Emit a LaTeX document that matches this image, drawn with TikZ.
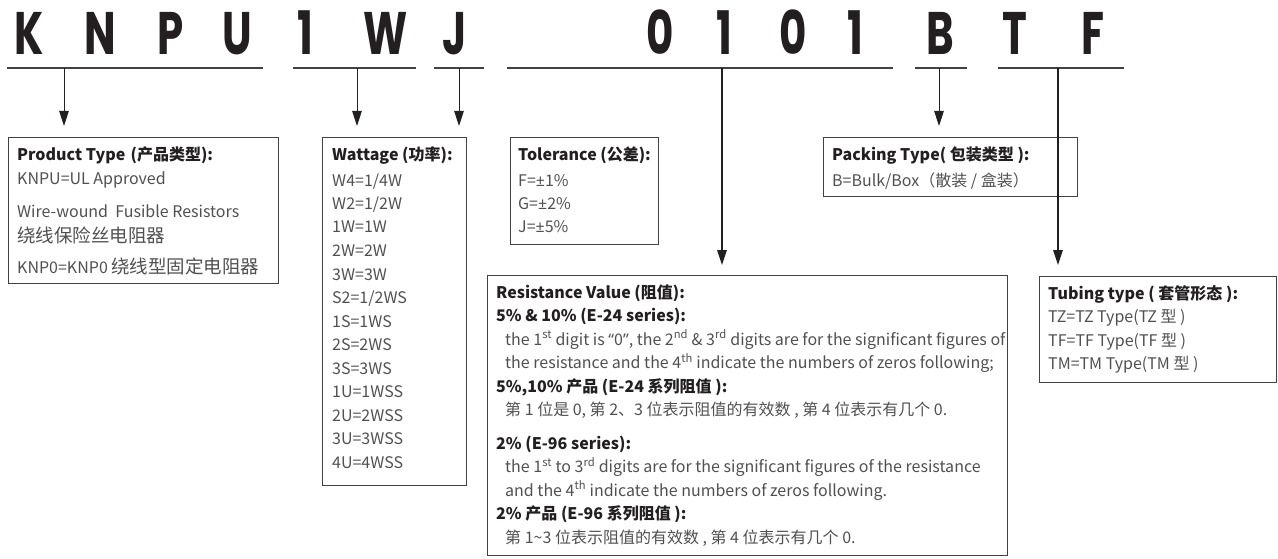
\documentclass[tikz,border=0pt]{standalone}
\usepackage{fontspec}
\usepackage{graphicx}
\setmainfont{Noto Sans CJK SC}
\newfontfamily\codefont{Poppins}
\newfontfamily\latfont{Noto Sans}
\usetikzlibrary{arrows.meta}
\definecolor{ink}{HTML}{231F20}
\definecolor{bodytxt}{HTML}{505052}
\newcommand{\cl}[1]{\scalebox{0.7}[1]{#1}}
\newcommand{\bigcjk}[1]{{\fontsize{18.5}{18.5}\selectfont #1}}
\newcommand{\latq}[1]{{\latfont #1}}
\tikzset{
  code/.style={font=\codefont\bfseries\fontsize{60}{60}\selectfont, text=ink, anchor=base, inner sep=0pt},
  uline/.style={line width=1.8pt, draw=ink!85},
  conn/.style={line width=1pt, draw=ink, -{Triangle[length=15pt,width=9.5pt]}},
  longconn/.style={line width=1.3pt, draw=ink, -{Triangle[length=15pt,width=9.5pt]}},
  boxx/.style={draw=ink!85, line width=1pt, anchor=north west, inner sep=0pt},
  hd/.style={font=\bfseries\fontsize{16}{16}\selectfont, text=ink, anchor=base west, inner sep=0pt},
  tx/.style={font=\fontsize{16}{16}\selectfont, text=bodytxt, anchor=base west, inner sep=0pt},
}
\begin{document}
\begin{tikzpicture}[x=1pt,y=-1pt]
\useasboundingbox (0,0) rectangle (1278,559);
% code letters
\node[code] (c1) at (29,55) {\cl{K}};
\node[code] (c2) at (100,55) {\cl{N}};
\node[code] (c3) at (171,55) {\cl{P}};
\node[code] (c4) at (237,55) {\cl{U}};
\node[code] (c5) at (305,55) {\cl{1}};
\node[code] (c6) at (386,55) {\cl{W}};
\node[code] (c7) at (455,55) {\cl{J}};
\node[code] (c8) at (660,55) {\cl{0}};
\node[code] (c9) at (724,55) {\cl{1}};
\node[code] (c10) at (793,55) {\cl{0}};
\node[code] (c11) at (855,55) {\cl{1}};
\node[code] (c12) at (940,55) {\cl{B}};
\node[code] (c13) at (1015,55) {\cl{T}};
\node[code] (c14) at (1093,55) {\cl{F}};
% underlines
\coordinate (u1a) at (7,68);   \coordinate (u1b) at (263,68);
\coordinate (u2a) at (293,68); \coordinate (u2b) at (416,68);
\coordinate (u3a) at (434,68); \coordinate (u3b) at (484,68);
\coordinate (u4a) at (507,68); \coordinate (u4b) at (893,68);
\coordinate (u5a) at (915,68); \coordinate (u5b) at (967,68);
\coordinate (u6a) at (998,68); \coordinate (u6b) at (1124,68);
\draw[uline] (u1a) -- (u1b);
\draw[uline] (u2a) -- (u2b);
\draw[uline] (u3a) -- (u3b);
\draw[uline] (u4a) -- (u4b);
\draw[uline] (u5a) -- (u5b);
\draw[uline] (u6a) -- (u6b);
% boxes
\node[boxx, minimum width=270pt, minimum height=146pt] (pbox) at (8,137) {};
\node[boxx, minimum width=144pt, minimum height=348pt] (wbox) at (322,137) {};
\node[boxx, minimum width=148pt, minimum height=107pt] (tbox) at (510,137) {};
\node[boxx, minimum width=254pt, minimum height=59pt] (kbox) at (823,137) {};
\node[boxx, minimum width=520pt, minimum height=280pt] (rbox) at (487,275) {};
\node[boxx, minimum width=237pt, minimum height=106pt] (ubox) at (1039,276) {};
% connectors
\coordinate (a1) at (64,68);
\coordinate (a2) at (357,68);
\coordinate (a3) at (459,68);
\coordinate (a4) at (722,68);
\coordinate (a5) at (939,68);
\coordinate (a6) at (1058,68);
\draw[conn, shorten >=11pt] (a1) -- (a1 |- pbox.north);
\draw[conn, shorten >=11pt] (a2) -- (a2 |- wbox.north);
\draw[conn, shorten >=11pt] (a3) -- (a3 |- tbox.north);
\draw[longconn, shorten >=10pt] (a4) -- (a4 |- rbox.north);
\draw[conn, shorten >=11pt] (a5) -- (a5 |- kbox.north);
\draw[longconn, shorten >=11pt] (a6) -- (a6 |- ubox.north);
% product type
\node[hd] (p0) at (17,161) {Product Type\,\,(产品类型):};
\node[tx] (p1) at (17,185) {KNPU=UL Approved};
\node[tx] (p2) at (17,218) {Wire-wound\ \ Fusible Resistors};
\node[tx] (p3) at (17,242) {\bigcjk{绕线保险丝电阻器}};
\node[tx] (p4) at (17,273) {KNP0=KNP0 \bigcjk{绕线型固定电阻器}};
% wattage
\node[hd] (w0) at (332,161) {Wattage (功率):};
\foreach \t [count=\i] in {{W4=1/4W},{W2=1/2W},{1W=1W},{2W=2W},{3W=3W},{S2=1/2WS},{1S=1WS},{2S=2WS},{3S=3WS},{1U=1WSS},{2U=2WSS},{3U=3WSS},{4U=4WSS}}
  \node[tx] (w\i) at (332,{186+23.5*(\i-1)}) {\t};
% tolerance
\node[hd] (t0) at (518,161) {Tolerance (公差):};
\node[tx] (t1) at (518,186) {F=\latq{±}1\%};
\node[tx] (t2) at (518,209.5) {G=\latq{±}2\%};
\node[tx] (t3) at (518,233) {J=\latq{±}5\%};
% packing
\node[hd] (k0) at (832,161) {Packing Type( 包装类型 ):};
\node[tx] (k1) at (832,186) {B=Bulk/Box（散装 / 盒装）};
% resistance
\node[hd] (r0) at (496,298) {Resistance Value (阻值):};
\node[hd] (r1) at (496,321.5) {5\% \& 10\% (E-24 series):};
\node[tx] (r2) at (505,345) {the 1\textsuperscript{st} digit is \latq{“}0\latq{”}, the 2\textsuperscript{nd} \& 3\textsuperscript{rd} digits are for the significant figures of};
\node[tx] (r3) at (505,368.5) {the resistance and the 4\textsuperscript{th} indicate the numbers of zeros following;};
\node[hd] (r4) at (496,392) {5\%,10\% 产品 (E-24 系列阻值 ):};
\node[tx] (r5) at (505,415.5) {第 1 位是 0, 第 2、3 位表示阻值的有效数 , 第 4 位表示有几个 0.};
\node[hd] (r6) at (496,449) {2\% (E-96 series):};
\node[tx] (r7) at (505,472.5) {the 1\textsuperscript{st} to 3\textsuperscript{rd} digits are for the significant figures of the resistance};
\node[tx] (r8) at (505,496) {and the 4\textsuperscript{th} indicate the numbers of zeros following.};
\node[hd] (r9) at (496,519.5) {2\% 产品 (E-96 系列阻值 ):};
\node[tx] (r10) at (505,543) {第 1\textasciitilde 3 位表示阻值的有效数 , 第 4 位表示有几个 0.};
% tubing
\node[hd] (s0) at (1048,299) {Tubing type ( 套管形态 ):};
\node[tx] (s1) at (1048,322.5) {TZ=TZ Type(TZ 型 )};
\node[tx] (s2) at (1048,346) {TF=TF Type(TF 型 )};
\node[tx] (s3) at (1048,369.5) {TM=TM Type(TM 型 )};
\end{tikzpicture}
\end{document}
